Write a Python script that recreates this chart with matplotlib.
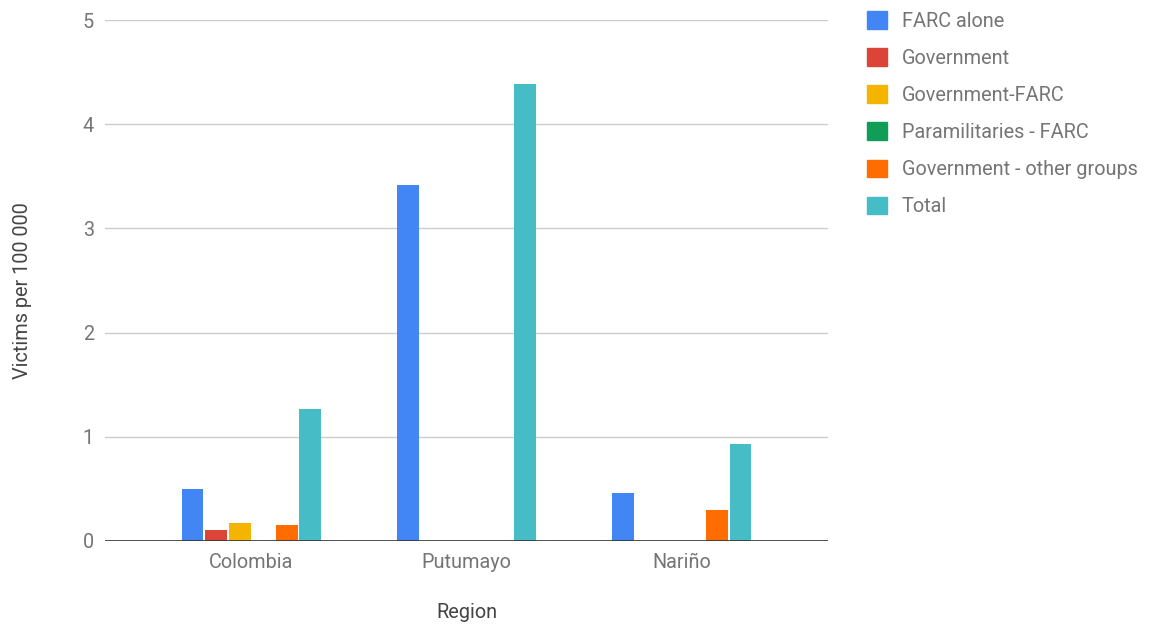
import matplotlib.pyplot as plt
import numpy as np
from matplotlib.patches import Patch

plt.rcParams['font.family'] = ['Roboto', 'DejaVu Sans']

regions = ['Colombia', 'Putumayo', 'Nariño']
series = ['FARC alone', 'Government', 'Government-FARC',
          'Paramilitaries - FARC', 'Government - other groups', 'Total']
farc_alone = [0.50, 3.42, 0.46]
government = [0.11, 0.0, 0.0]
government_farc = [0.17, 0.0, 0.0]
paramilitaries_farc = [0.0, 0.0, 0.0]
government_other = [0.15, 0.0, 0.30]
total = [1.27, 4.39, 0.93]
values = [farc_alone, government, government_farc,
          paramilitaries_farc, government_other, total]
colors = ['#4285F4', '#DB4437', '#F4B400', '#0F9D58', '#FF6D00', '#46BDC6']

text_col = '#757575'
label_col = '#444444'
fs = 14.3

fig = plt.figure(figsize=(11.5, 6.26), dpi=100)
ax = fig.add_axes([105 / 1150, 1 - 541 / 626, 723 / 1150, 521 / 626])

x = np.arange(len(regions))
pitch = 0.1093
width = 0.102
for i, (vals, col) in enumerate(zip(values, colors)):
    ax.bar(x + (i - 2.5) * pitch, vals, width, color=col, zorder=3)

ax.set_ylim(0, 5)
ax.set_xlim(-0.68, 2.68)
ax.set_yticks(range(6))
ax.yaxis.grid(True, color='#cccccc', linewidth=1, zorder=0)
ax.axhline(0, color='#333333', linewidth=1.2, zorder=4)
for s in ax.spines.values():
    s.set_visible(False)
ax.tick_params(axis='both', length=0, labelsize=fs, colors=text_col)
ax.tick_params(axis='y', pad=8)
ax.tick_params(axis='x', pad=9)
ax.set_xticks(x)
ax.set_xticklabels(regions)

ax.set_xlabel('Region', fontsize=fs, color=label_col, labelpad=22)
ax.set_ylabel('Victims per 100 000', fontsize=fs, color=label_col)
ax.yaxis.set_label_coords(-0.101, 0.48)

handles = [Patch(facecolor=c, edgecolor=c) for c in colors]
fig.legend(handles, series, loc='upper left', bbox_to_anchor=(849 / 1150, 1 + 7 / 626),
           frameon=False, fontsize=fs, labelcolor=text_col, handlelength=1.0,
           handleheight=1.0, labelspacing=0.88, handletextpad=0.75)

fig.savefig('out.png', dpi=100)
